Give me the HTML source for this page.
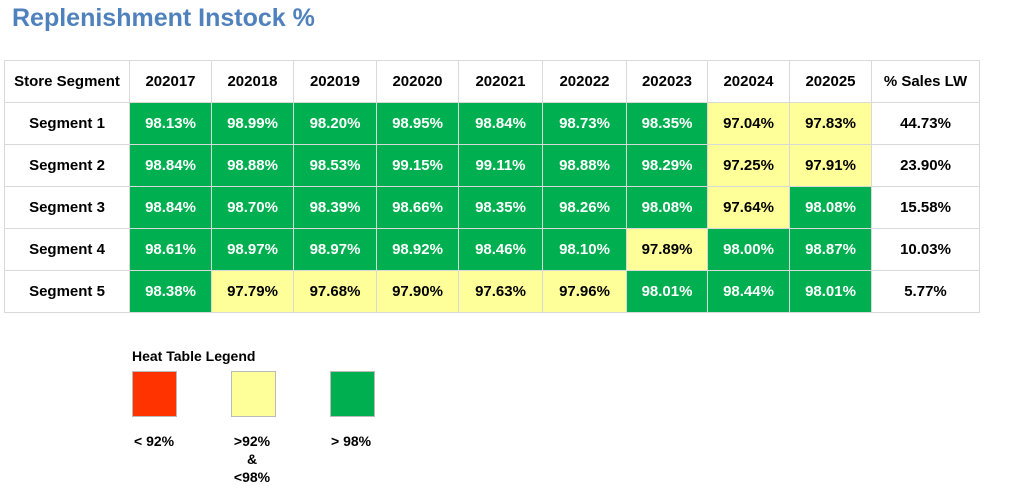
<!DOCTYPE html>
<html><head><meta charset="utf-8"><style>
body{margin:0;width:1012px;height:483px;background:#fff;position:relative;font-family:"Liberation Sans",Arial,sans-serif;overflow:hidden}
.t{position:absolute;left:12px;top:4px;font-size:25px;font-weight:bold;color:#4f81bd}
.c{position:absolute;box-sizing:border-box;border:1px solid #d9d9d9;display:flex;align-items:center;justify-content:center;font-weight:bold;font-size:15px;color:#000}
.sq{position:absolute;box-sizing:border-box;width:45px;height:46px;top:371px;border:1px solid #bbb}
.lb{position:absolute;font-size:14px;font-weight:bold;text-align:center;line-height:18px}
</style></head><body>
<div class="t">Replenishment Instock %</div>
<div id="tbl"></div>
<div class="lb" style="left:132px;top:347px">Heat Table Legend</div>
<div class="sq" style="left:132px;background:#ff3300"></div>
<div class="sq" style="left:231px;background:#ffff99"></div>
<div class="sq" style="left:330px;background:#00b050"></div>
<div class="lb" style="left:134px;top:432px">&lt; 92%</div>
<div class="lb" style="left:229px;top:432px;width:46px">&gt;92%<br>&amp;<br>&lt;98%</div>
<div class="lb" style="left:331px;top:432px">&gt; 98%</div>
<script>
const weeks=["202017","202018","202019","202020","202021","202022","202023","202024","202025"];
const segments=["Segment 1","Segment 2","Segment 3","Segment 4","Segment 5"];
const seg1=[98.13,98.99,98.20,98.95,98.84,98.73,98.35,97.04,97.83];
const seg2=[98.84,98.88,98.53,99.15,99.11,98.88,98.29,97.25,97.91];
const seg3=[98.84,98.70,98.39,98.66,98.35,98.26,98.08,97.64,98.08];
const seg4=[98.61,98.97,98.97,98.92,98.46,98.10,97.89,98.00,98.87];
const seg5=[98.38,97.79,97.68,97.90,97.63,97.96,98.01,98.44,98.01];
const salesLW=[44.73,23.90,15.58,10.03,5.77];
const values=[seg1,seg2,seg3,seg4,seg5];
const colX=[4,129,211,293,376,458,542,626,707,789,871,979];
const top0=60,rowH=42;
const tbl=document.getElementById('tbl');
function cell(ci,ri,text,bg,fg,name){
  const d=document.createElement('div');
  d.className='c';
  d.style.left=colX[ci]+'px';d.style.width=(colX[ci+1]-colX[ci]+1)+'px';
  d.style.top=(top0+ri*rowH)+'px';d.style.height=(rowH+1)+'px';
  d.style.background=bg;d.style.color=fg;d.textContent=text;
  
  
  tbl.appendChild(d);
}
cell(0,0,"Store Segment","#fff","#000","header-store-segment");
weeks.forEach((w,i)=>cell(i+1,0,w,"#fff","#000","header-"+w));
cell(10,0,"% Sales LW","#fff","#000","header-sales-lw");
segments.forEach((s,r)=>{
  cell(0,r+1,s,"#fff","#000","row-label-segment-"+(r+1));
  values[r].forEach((v,i)=>{
    let bg,fg;
    if(v<92){bg="#ff3300";fg="#fff";}else if(v<98){bg="#ffff99";fg="#000";}else{bg="#00b050";fg="#fff";}
    cell(i+1,r+1,v.toFixed(2)+"%",bg,fg,"cell-segment-"+(r+1)+"-"+weeks[i]);
  });
  cell(10,r+1,salesLW[r].toFixed(2)+"%","#fff","#000","sales-lw-segment-"+(r+1));
});
</script>
</body></html>
